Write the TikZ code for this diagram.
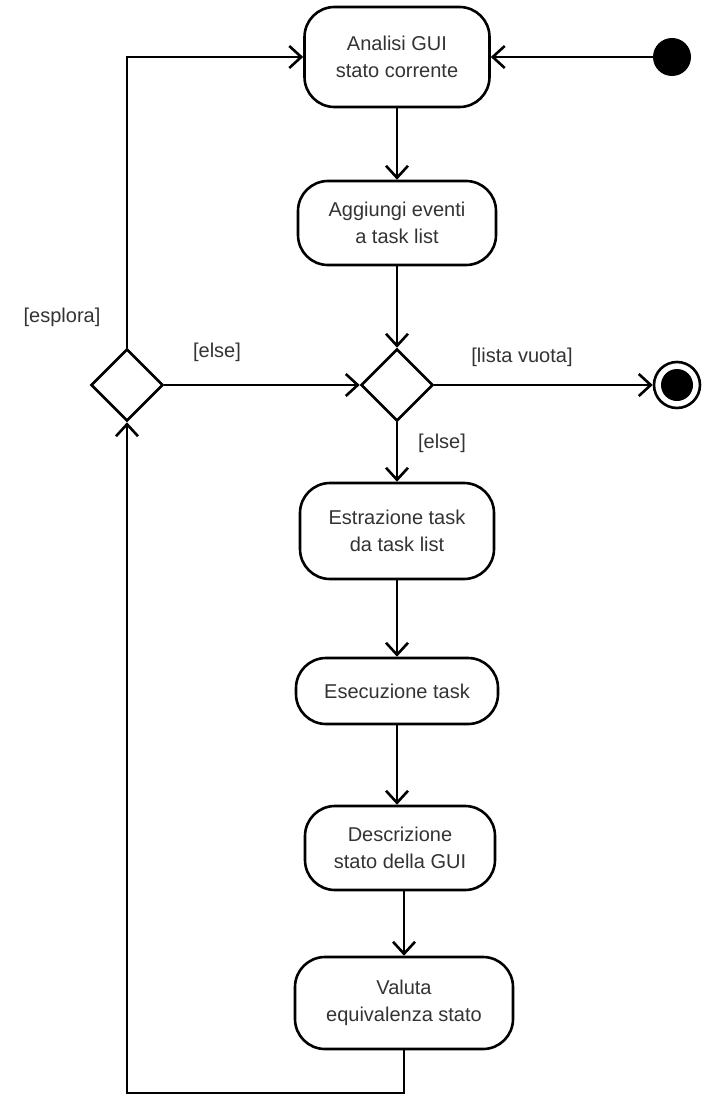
\documentclass[tikz,border=0pt]{standalone}
\usepackage{fontspec}
\setmainfont{Liberation Sans}
\usetikzlibrary{arrows.meta, shapes.geometric}
\colorlet{linecol}{black}
\colorlet{textcol}{black!80}
\tikzset{every node/.style={font=\fontsize{10}{13.5}\selectfont, text=textcol}}
\tikzset{
  action/.style={draw=linecol, line width=1.3pt, rounded corners=15pt,
    align=center, inner sep=2pt},
  decision/.style={diamond, draw=linecol, line width=1.3pt,
    minimum width=36pt, minimum height=36pt, inner sep=0pt},
  startnode/.style={circle, fill=linecol, minimum size=19pt, inner sep=0pt},
  endnode/.style={circle, draw=linecol, line width=1.3pt, minimum size=23pt,
    inner sep=0pt, path picture={\fill[linecol]
      (path picture bounding box.center) circle (8pt);}},
  flow/.style={draw=linecol, line width=1.3pt,
    -{Straight Barb[length=6pt, width=11pt]}}
}

\begin{document}
\begin{tikzpicture}[x=0.5pt, y=-0.5pt]

  \useasboundingbox (0,0) rectangle (704,1097);

  % Actions.
  \node[action, minimum width=92.5pt, minimum height=50pt] (analisi)
    at (397,57) {Analisi GUI\\stato corrente};
  \node[action, minimum width=99pt, minimum height=42pt] (aggiungi)
    at (397,223) {Aggiungi eventi\\a task list};
  \node[action, minimum width=97pt, minimum height=48pt] (estrazione)
    at (397,531) {Estrazione task\\da task list};
  \node[action, minimum width=101pt, minimum height=33pt] (esecuzione)
    at (397,691) {Esecuzione task};
  \node[action, minimum width=95pt, minimum height=42pt] (descrizione)
    at (400,848) {Descrizione\\stato della GUI};
  \node[action, minimum width=109pt, minimum height=46pt] (valuta)
    at (404,1003) {Valuta\\equivalenza stato};

  % Decisions.
  \node[decision] (lista) at (397,385) {};
  \node[decision] (esplora) at (127,385) {};

  % Start and end.
  \node[startnode] (inizio) at (672,57) {};
  \node[endnode] (fine) at (677,385) {};

  % Corners of the loop.
  \coordinate (giuSx) at (127,1093);

  % Flow.
  \draw[flow] (inizio) -- (analisi);
  \draw[flow] (analisi) -- (aggiungi);
  \draw[flow] (aggiungi) -- (lista);
  \draw[flow] (lista) -- (fine);
  \draw[flow] (lista) -- (estrazione);
  \draw[flow] (estrazione) -- (esecuzione);
  \draw[flow] (esecuzione.south) -- (esecuzione.south |- descrizione.north);
  \draw[flow] (valuta.north |- descrizione.south) -- (valuta.north);
  \draw[flow] (esplora) -- (lista);
  \draw[flow] (valuta.south) |- (giuSx) -- (esplora.south);
  \draw[flow] (esplora.north) |- (analisi.west);

  % Guards.
  \node (lblEsplora) at (62,317) {[esplora]};
  \node (lblElse) at (217,352) {[else]};
  \node (lblVuota) at (522,357) {[lista vuota]};
  \node (lblAltro) at (442,443) {[else]};

\end{tikzpicture}
\end{document}
